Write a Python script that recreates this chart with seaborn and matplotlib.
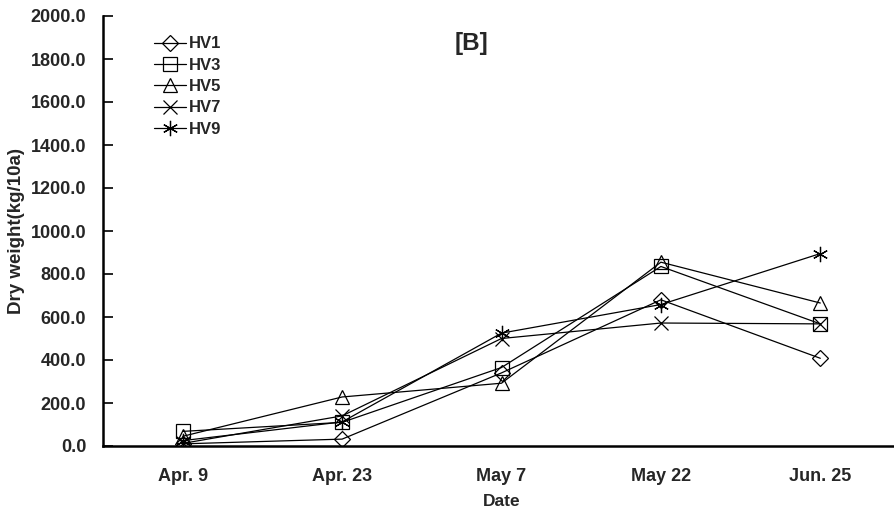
import matplotlib
matplotlib.use("Agg")
import matplotlib.pyplot as plt
import seaborn as sns
import pandas as pd
from matplotlib.lines import Line2D
from matplotlib.ticker import FixedLocator, NullFormatter, FixedFormatter

dates = ["Apr. 9", "Apr. 23", "May 7", "May 22", "Jun. 25"]
varieties = ["HV1", "HV3", "HV5", "HV7", "HV9"]
hv1 = [10, 32, 340, 680, 408]
hv3 = [68, 110, 365, 835, 568]
hv5 = [45, 228, 292, 855, 665]
hv7 = [12, 140, 500, 572, 568]
hv9 = [25, 112, 525, 658, 895]
yticks = [0, 200, 400, 600, 800, 1000, 1200, 1400, 1600, 1800, 2000]

series = dict(zip(varieties, [hv1, hv3, hv5, hv7, hv9]))
rows = []
for name, vals in series.items():
    for i, v in enumerate(vals):
        rows.append({"variety": name, "pos": i, "weight": v})
df = pd.DataFrame(rows)

sns.set_theme(style="white")
plt.rcParams["font.family"] = ["Liberation Sans", "DejaVu Sans"]
plt.rcParams["font.weight"] = "bold"

markers = {"HV1": "D", "HV3": "s", "HV5": "^", "HV7": "x", "HV9": (6, 2, 0)}
msizes = {"HV1": 8, "HV3": 9.5, "HV5": 10, "HV7": 10, "HV9": 11}

fig = plt.figure(figsize=(8.94, 5.13), dpi=100)
ax = fig.add_axes([103 / 894, 1 - 446 / 513, 797 / 894, 430 / 513])

handles = []
for name in varieties:
    sub = df[df["variety"] == name]
    sns.lineplot(data=sub, x="pos", y="weight", ax=ax, color="black",
                 linewidth=0.9, marker=markers[name], markersize=msizes[name],
                 markerfacecolor="none", markeredgecolor="black",
                 markeredgewidth=0.9, legend=False)
    handles.append(Line2D([], [], color="black", linewidth=0.9,
                          marker=markers[name], markersize=msizes[name],
                          markerfacecolor="none", markeredgecolor="black",
                          markeredgewidth=0.9, label=name))

ax.set_xlim(-0.5, 4.5)
ax.set_ylim(0, 2000)
ax.set_yticks(yticks)
ax.set_yticklabels([f"{v:.1f}" for v in yticks])

# category boundaries carry the tick marks, centres carry the labels
ax.xaxis.set_major_locator(FixedLocator([0.5, 1.5, 2.5, 3.5]))
ax.xaxis.set_major_formatter(NullFormatter())
ax.xaxis.set_minor_locator(FixedLocator(range(len(dates))))
ax.xaxis.set_minor_formatter(FixedFormatter(dates))
ax.tick_params(axis="x", which="major", direction="in", length=7, width=1.2,
               color="black")
ax.tick_params(axis="x", which="minor", length=0, pad=16, labelsize=13)
ax.tick_params(axis="y", direction="in", length=7, width=1.2, color="black",
               pad=12, labelsize=13, left=True)
for lbl in ax.get_xticklabels(minor=True) + ax.get_yticklabels():
    lbl.set_fontweight("bold")

for side in ["top", "right"]:
    ax.spines[side].set_visible(False)
for side in ["left", "bottom"]:
    ax.spines[side].set_color("black")
    ax.spines[side].set_linewidth(1.8)
ax.grid(False)

ax.set_xlabel("Date", fontsize=12.5, fontweight="bold", labelpad=6)
ax.set_ylabel("Dry weight(kg/10a)", fontsize=13.5, fontweight="bold",
              labelpad=4)

ax.text(0.462, 0.935, "[B]", transform=ax.transAxes, fontsize=17.5,
        fontweight="bold", ha="center", va="center")

leg = ax.legend(handles=handles, loc="upper left",
                bbox_to_anchor=(0.056, 0.968), frameon=False,
                prop={"weight": "bold", "size": 12}, handlelength=1.9,
                handletextpad=0.15, labelspacing=0.38, borderaxespad=0)

fig.savefig("out.png", dpi=100)
